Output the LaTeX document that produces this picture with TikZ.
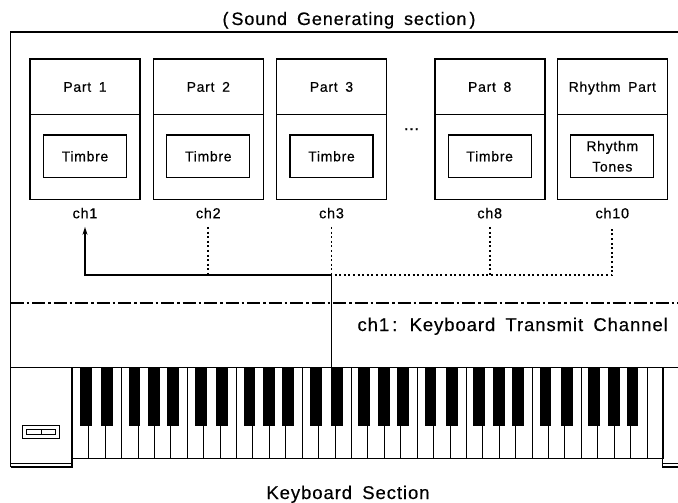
\documentclass[tikz,border=0pt]{standalone}
\usepackage{fontspec}
\setmainfont{Liberation Sans}[LetterSpace=5,FakeBold=0.4]
\usetikzlibrary{arrows.meta}
\newcommand\sz[1]{\fontsize{#1}{#1}\selectfont\spaceskip=0.55em\relax}
\begin{document}
\begin{tikzpicture}[x=1pt,y=-1pt,
  frameline/.style={line width=1.3pt},
  partbox/.style={draw,line width=1.6pt,minimum width=110pt,minimum height=140.5pt,inner sep=0pt},
  headbox/.style={draw,line width=1.2pt,minimum width=110pt,minimum height=55.5pt,inner sep=0pt,
    font=\sz{14},text height=10pt,text depth=0pt},
  tonebox/.style={draw,line width=1.1pt,minimum width=83pt,minimum height=42.5pt,inner sep=0pt,
    font=\sz{14},align=center},
  chlabel/.style={inner xsep=2pt,inner ysep=8.4pt,text height=10pt,text depth=0pt,font=\sz{14.5}},
  chanline/.style={line width=1.3pt},
  dotline/.style={line width=1.7pt,dash pattern=on 2pt off 2.6pt},
  dashdot/.style={line width=1.3pt,dash pattern=on 13pt off 3pt on 2.5pt off 3pt},
  keyline/.style={line width=0.9pt},
]
\useasboundingbox (0,0) rectangle (678,503);

% title and outer frame of the sound generating section
\node[anchor=base,font=\sz{18}] (title) at (349,25) {(\,Sound Generating section\,)};
\draw[frameline] (10.5,467) -- (10.5,32) -- (678,32);

% parts
\foreach \cx/\n/\hd in {85/1/{Part 1},208.3/2/{Part 2},331.5/3/{Part 3},
    489.7/8/{Part 8},612.3/10/{Rhythm Part}}{
  \node[partbox] (p\n) at (\cx,129.25) {};
  \node[headbox] (h\n) at (\cx,86.75) {\hd};
  \node[chlabel] (c\n) at (\cx,213.3) {ch\n};
}
\foreach \cx/\n in {85/1,208.3/2,331.5/3,489.7/8}
  \node[tonebox,text height=10pt,text depth=0pt] (t\n) at (\cx,156.25) {Timbre};
\node[tonebox,font=\fontsize{14}{20.5}\selectfont] (t10) at (612.3,156.25) {Rhythm\\Tones};
\node[anchor=base,font=\sz{16}] (gap) at (411.5,130) {...};

% channel routing
\coordinate (bend) at (331.5,275);
\coordinate (kbtap) at (331.5,367.5);
\draw[chanline,-{Stealth[length=8pt,width=5pt]}] (kbtap) -- (bend) -| (c1.south);
\draw[dotline] (c2.south) -- (c2.south |- bend);
\draw[dotline] (c3.south) -- (bend);
\draw[dotline] (bend) ++(3,0) -- (bend -| c10.south) -- (c10.south);
\draw[dotline] (c8.south) -- (c8.south |- bend);

% boundary between the two sections
\draw[dashdot] (10.5,303) -- (678,303);
\node[anchor=base west,font=\sz{18.5}] (kbch) at (354,331) {ch1\,: Keyboard Transmit Channel};

% keyboard
\draw[frameline] (10.5,367.5) -- (678,367.5);
\foreach \i in {0,...,35}
  \draw[keyline] ({72.3+16.42*\i},367.5) rectangle ++(16.42,91);
\foreach \o in {0,...,4}
  \foreach \k/\off in {1/-3,2/2,4/-3.5,5/-0.5,6/2}
    \fill ({72.3+16.42*(7*\o+\k)+\off-5.9},367.5) rectangle ++(11.8,58.5);
\draw[line width=1.3pt] (72.3,458.5) -- (662.7,458.5);

% end panels
\draw[line width=1.1pt] (72,367.5) -- (72,467) -- (10.5,467);
\draw[line width=1pt] (10.5,463) -- (72,463);
\draw[line width=1.1pt] (662.7,367.5) -- (662.7,467) -- (678,467);
\draw[line width=1pt] (662.7,463.5) -- (678,463.5);
\draw[line width=1.2pt] (22.7,425.7) rectangle (59.3,438.3);
\draw[line width=1pt] (26.7,429) rectangle (55,434);
\draw[line width=1pt] (41,429) -- (41,434);

\node[anchor=base,font=\sz{18.5}] (kbsec) at (348,499) {Keyboard Section};
\end{tikzpicture}
\end{document}
